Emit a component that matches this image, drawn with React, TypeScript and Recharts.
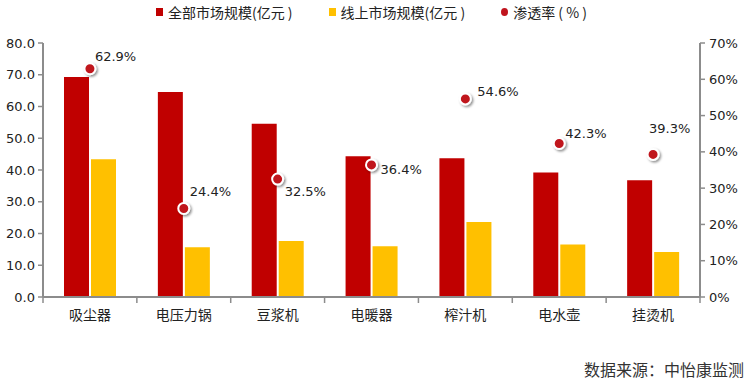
import { ComposedChart, Bar, Scatter, XAxis, YAxis } from 'recharts';

const categories = ['吸尘器', '电压力锅', '豆浆机', '电暖器', '榨汁机', '电水壶', '挂烫机'];
const totalMarket = [69.3, 64.6, 54.6, 44.3, 43.7, 39.2, 36.8];
const onlineMarket = [43.4, 15.7, 17.6, 16.0, 23.6, 16.5, 14.2];
const penetration = [62.9, 24.4, 32.5, 36.4, 54.6, 42.3, 39.3];
const leftTicks = [0, 10, 20, 30, 40, 50, 60, 70, 80];
const rightTicks = [0, 10, 20, 30, 40, 50, 60, 70];

// where each rate label sits relative to its dot (text start, baseline)
const labelOffsets = [
  [5, -8],
  [6, -12],
  [7, 17],
  [9, 9],
  [12, -3],
  [6, -6],
  [-4, -21],
];

const RED = '#C00000';
const YELLOW = '#FFC000';
const DOT = '#C0141E';
const AXIS = '#8C8C8C';
const NUM_FONT = '"DejaVu Sans", sans-serif';
const CJK_FONT = '"Noto Sans CJK SC", sans-serif';

const chartData = categories.map((name, i) => ({
  name,
  total: totalMarket[i],
  online: onlineMarket[i],
  rate: penetration[i],
}));

function RateDot(props: any) {
  const { cx, cy, payload } = props;
  const i = categories.indexOf(payload.name);
  const [dx, dy] = labelOffsets[i] || [6, -6];
  const fid = `dot-shadow-${i}`;
  return (
    <g>
      <defs>
        <filter id={fid} x="-100%" y="-100%" width="300%" height="300%">
          <feDropShadow dx="1.5" dy="1.5" stdDeviation="1.2" floodColor="#000" floodOpacity="0.45" />
        </filter>
      </defs>
      <circle cx={cx} cy={cy} r={5.5} fill={DOT} stroke="#fff" strokeWidth={2} filter={`url(#${fid})`} />
      <text x={cx + dx} y={cy + dy} fontSize={13} fontFamily={NUM_FONT} fill="#222">
        {`${payload.rate.toFixed(1)}%`}
      </text>
    </g>
  );
}

function CategoryTick(props: any) {
  const { x, y, payload, index } = props;
  const half = payload.offset || 46.9;
  const top = y - 13;
  return (
    <g>
      <line x1={x - half} y1={top} x2={x - half} y2={top + 6} stroke={AXIS} strokeWidth={1.5} />
      {index === categories.length - 1 && (
        <line x1={x + half} y1={top} x2={x + half} y2={top + 6} stroke={AXIS} strokeWidth={1.5} />
      )}
      <text x={x} y={y} dy="0.71em" textAnchor="middle" fontSize={14} fontFamily={CJK_FONT} fill="#222">
        {payload.value}
      </text>
    </g>
  );
}

function LegendRow() {
  const item = (marker: React.ReactNode, label: string, ml: number) => (
    <div style={{ display: 'flex', alignItems: 'center', marginLeft: ml }}>
      {marker}
      <span style={{ marginLeft: 5 }}>{label}</span>
    </div>
  );
  return (
    <div
      style={{
        position: 'absolute',
        top: 2,
        left: 156,
        display: 'flex',
        fontFamily: CJK_FONT,
        fontSize: 14,
        color: '#222',
        lineHeight: '20px',
        whiteSpace: 'nowrap',
      }}
    >
      {item(<span style={{ width: 7, height: 8, background: RED, display: 'inline-block' }} />, '全部市场规模(亿元 )', 0)}
      {item(<span style={{ width: 7, height: 8, background: YELLOW, display: 'inline-block' }} />, '线上市场规模(亿元 )', 36)}
      {item(
        <span style={{ width: 7, height: 8, borderRadius: '50%', background: DOT, display: 'inline-block' }} />,
        '渗透率 ( % )',
        36,
      )}
    </div>
  );
}

export default function App() {
  return (
    <div style={{ position: 'absolute', left: 0, top: 0, width: 753, height: 382, background: '#fff' }}>
      <LegendRow />
      <ComposedChart
        width={753}
        height={382}
        data={chartData}
        margin={{ top: 43, right: 0, bottom: 55, left: 0 }}
        barGap={2}
      >
        <XAxis
          dataKey="name"
          height={30}
          axisLine={{ stroke: AXIS, strokeWidth: 2 }}
          tickLine={false}
          tickSize={6}
          tickMargin={7}
          interval={0}
          tick={<CategoryTick />}
        />
        <YAxis
          yAxisId="left"
          width={43}
          domain={[0, 80]}
          ticks={leftTicks}
          tickFormatter={(v: number) => v.toFixed(1)}
          axisLine={{ stroke: AXIS, strokeWidth: 2 }}
          tickLine={{ stroke: AXIS, strokeWidth: 1.5 }}
          tickSize={5}
          tickMargin={3}
          tick={{ fontSize: 13, fontFamily: NUM_FONT, fill: '#222' }}
        />
        <YAxis
          yAxisId="right"
          orientation="right"
          width={53}
          domain={[0, 70]}
          ticks={rightTicks}
          tickFormatter={(v: number) => `${v}%`}
          axisLine={{ stroke: AXIS, strokeWidth: 2 }}
          tickLine={{ stroke: AXIS, strokeWidth: 1.5 }}
          tickSize={5}
          tickMargin={4}
          tick={{ fontSize: 13, fontFamily: NUM_FONT, fill: '#222', textAnchor: 'start' }}
        />
        <Bar yAxisId="left" dataKey="total" fill={RED} barSize={25} isAnimationActive={false} />
        <Bar yAxisId="left" dataKey="online" fill={YELLOW} barSize={25} isAnimationActive={false} />
        <Scatter yAxisId="right" dataKey="rate" shape={<RateDot />} isAnimationActive={false} />
      </ComposedChart>
      <div
        style={{
          position: 'absolute',
          left: 584,
          top: 359,
          fontFamily: CJK_FONT,
          fontSize: 16,
          lineHeight: '20px',
          color: '#333',
          whiteSpace: 'nowrap',
        }}
      >
        数据来源：中怡康监测
      </div>
    </div>
  );
}
